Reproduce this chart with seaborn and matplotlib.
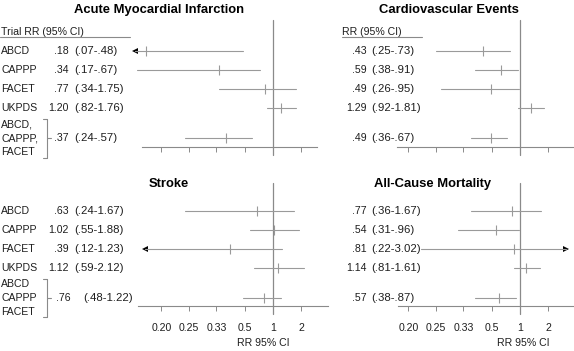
import numpy as np
import pandas as pd
import matplotlib
matplotlib.use("Agg")
import matplotlib.pyplot as plt
from matplotlib import transforms as mtrans
from matplotlib.lines import Line2D
from matplotlib.ticker import NullLocator
import seaborn as sns

# ---------------- data ----------------
trials = ["ABCD", "CAPPP", "FACET", "UKPDS"]
pooled_ami = ["ABCD,", "CAPPP,", "FACET"]
pooled_stroke = ["ABCD", "CAPPP", "FACET"]

ami_rr = [0.18, 0.34, 0.77, 1.20, 0.37]
ami_lo = [0.07, 0.17, 0.34, 0.82, 0.24]
ami_hi = [0.48, 0.67, 1.75, 1.76, 0.57]

cv_rr = [0.43, 0.59, 0.49, 1.29, 0.49]
cv_lo = [0.25, 0.38, 0.26, 0.92, 0.36]
cv_hi = [0.73, 0.91, 0.95, 1.81, 0.67]

st_rr = [0.63, 1.02, 0.39, 1.12, 0.76]
st_lo = [0.24, 0.55, 0.12, 0.59, 0.48]
st_hi = [1.67, 1.88, 1.23, 2.12, 1.22]

mo_rr = [0.77, 0.54, 0.81, 1.14, 0.57]
mo_lo = [0.36, 0.31, 0.22, 0.81, 0.38]
mo_hi = [1.67, 0.96, 3.02, 1.61, 0.87]

tick_values = [0.20, 0.25, 0.33, 0.5, 1, 2]
tick_labels = ["0.20", "0.25", "0.33", "0.5", "1", "2"]

titles = ["Acute Myocardial Infarction", "Cardiovascular Events", "Stroke", "All-Cause Mortality"]
xlabel = "RR 95% CI"

# display range beyond which a CI is shown as an arrow
show_lo, show_hi = 0.15, 2.9

# ---------------- style ----------------
sns.set_style("white")
plt.rcParams["font.family"] = ["Liberation Sans", "DejaVu Sans"]
TXT = "#1e1e1e"
LN = "#9a9a9a"
VL = "#8a8a8a"
FS = 7.6
FS_CI = 8.2

W, H = 574, 351
fig = plt.figure(figsize=(W / 100, H / 100), dpi=100)


def fwd(x):
    x = np.clip(np.asarray(x, dtype=float), 1e-9, None)
    return np.where(x < 1, 1 - 1 / x, np.log2(x))


def inv(f):
    f = np.asarray(f, dtype=float)
    return np.where(f < 0, 1 / (1 - np.minimum(f, 0)), 2 ** np.maximum(f, 0))


K = 28.0  # px per scale unit


def fmt(v):
    s = f"{v:.2f}"
    return s[1:] if s.startswith("0") else s


def panel(rr, lo, hi, x0, x1, one_px, top, bottom, row0, step, pool_row,
          show_ticklabels, arrow_f, left_text, est_x, ci_x, pooled_names,
          pooled_ci_x=None, pooled_est_x=None):
    ax = fig.add_axes([x0 / W, 1 - bottom / H, (x1 - x0) / W, (bottom - top) / H])
    ax.set_xscale("function", functions=(fwd, inv))
    ax.set_xlim(float(inv((x0 - one_px) / K)), float(inv((x1 - one_px) / K)))
    ytop = (top - row0) / step
    ybot = (bottom - row0) / step
    ax.set_ylim(ybot, ytop)
    ax.set_yticks([])
    ax.set_xticks(tick_values)
    ax.set_xticklabels(tick_labels if show_ticklabels else [""] * len(tick_values))
    ax.xaxis.set_minor_locator(NullLocator())
    ax.tick_params(axis="x", length=3.6, width=0.7, color=VL, direction="out",
                   pad=8.5, labelsize=FS, labelcolor=TXT, bottom=True)
    for s in ["top", "right", "left"]:
        ax.spines[s].set_visible(False)
    ax.spines["bottom"].set_color(VL)
    ax.spines["bottom"].set_linewidth(0.8)
    ax.set_facecolor("none")

    rows = [0, 1, 2, 3, pool_row]
    # reference line at RR = 1
    ax.plot([1, 1], [ytop, ybot + 8 / step], color=VL, lw=0.9, clip_on=False)

    arrow_x = float(inv(arrow_f))
    for r, l, h in zip(rows, lo, hi):
        ld, hd = l, h
        if l < show_lo:
            ld = arrow_x
            ax.plot([arrow_x], [r], marker="<", ms=4.6, color="black", mew=0,
                    clip_on=False)
        if h > show_hi:
            hd = arrow_x
            ax.plot([arrow_x], [r], marker=">", ms=4.6, color="black", mew=0,
                    clip_on=False)
        ax.plot([ld, hd], [r, r], color=LN, lw=0.8, clip_on=False)

    df = pd.DataFrame({"rr": rr, "row": rows})
    sns.scatterplot(data=df, x="rr", y="row", marker="|", s=48, color=LN,
                    edgecolor=LN, linewidth=0.8, ax=ax, legend=False, clip_on=False)
    ax.set_xlabel("")
    ax.set_ylabel("")

    tr = mtrans.blended_transform_factory(fig.transFigure, ax.transData)
    for i, r in enumerate(rows):
        ex = est_x if i < 4 or pooled_est_x is None else pooled_est_x
        cx = ci_x if i < 4 or pooled_ci_x is None else pooled_ci_x
        ax.text(ex / W, r, fmt(rr[i]), transform=tr, ha="right", va="center",
                fontsize=FS, color=TXT)
        ax.text(cx / W, r, f"({fmt(lo[i])}-{fmt(hi[i])})", transform=tr,
                ha="left", va="center", fontsize=FS_CI, color=TXT)
    if left_text:
        for i, name in enumerate(trials):
            ax.text(1 / W, rows[i], name, transform=tr, ha="left", va="center",
                    fontsize=FS, color=TXT)
        for j, name in enumerate(pooled_names):
            ax.text(1 / W, pool_row + (j - 1) * 0.72, name, transform=tr,
                    ha="left", va="center", fontsize=FS, color=TXT)
        bx = 47.3 / W
        y_a, y_b = pool_row - 1.02, pool_row + 1.02
        for xs, ys in [([bx, bx], [y_a, y_b]),
                       ([43.3 / W, bx], [y_a, y_a]),
                       ([43.3 / W, bx], [y_b, y_b]),
                       ([bx, 51 / W], [pool_row, pool_row])]:
            ax.add_line(Line2D(xs, ys, transform=tr, color=VL, lw=0.8, clip_on=False))
    return ax, tr


# top-left: AMI
ax1, tr1 = panel(ami_rr, ami_lo, ami_hi, 141.7, 316.7, 273.3, 20, 147.3, 50.7, 19.2, 4.56,
                 False, -4.94, True, 68.6, 73.8, pooled_ami)
ax1.text(1 / W, (32 - 50.7) / 19.2, "Trial RR (95% CI)", transform=tr1, ha="left",
         va="center", fontsize=FS, color=TXT)
ax1.add_line(Line2D([0, 130 / W], [(37.5 - 50.7) / 19.2] * 2, transform=tr1,
                    color=VL, lw=0.8, clip_on=False))

# top-right: CV
ax2, tr2 = panel(cv_rr, cv_lo, cv_hi, 397, 573, 520.3, 20, 147.3, 50.7, 19.2, 4.56,
                 False, 1.63, False, 367.0, 370.8, None)
ax2.text(341.7 / W, (32 - 50.7) / 19.2, "RR (95% CI)", transform=tr2, ha="left",
         va="center", fontsize=FS, color=TXT)
ax2.add_line(Line2D([341.7 / W, 421.7 / W], [(37.5 - 50.7) / 19.2] * 2, transform=tr2,
                    color=VL, lw=0.8, clip_on=False))

# bottom-left: Stroke
ax3, tr3 = panel(st_rr, st_lo, st_hi, 138.3, 328, 273.3, 183, 306, 210.7, 19.0, 4.6,
                 True, -4.58, True, 68.6, 73.8, pooled_stroke,
                 pooled_ci_x=83.0, pooled_est_x=70.3)

# bottom-right: Mortality
ax4, tr4 = panel(mo_rr, mo_lo, mo_hi, 398, 573, 520.3, 183, 306, 210.7, 19.0, 4.6,
                 True, 1.63, False, 367.0, 370.8, None)

# titles
for t, cx, cy in zip(titles, [159.5, 449, 168.5, 432.7], [10, 10, 184, 184]):
    fig.text(cx / W, 1 - cy / H, t, ha="center", va="center", fontsize=9.4,
             fontweight="bold", color="black")

# x labels
for cx in [263, 523.7]:
    fig.text(cx / W, 1 - 343.3 / H, xlabel, ha="center", va="center",
             fontsize=FS, color=TXT)

fig.savefig("out.png", dpi=100)
